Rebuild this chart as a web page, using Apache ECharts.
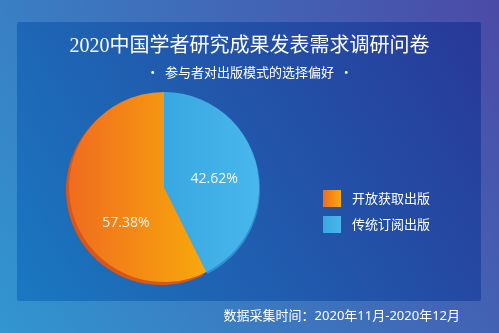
<!DOCTYPE html>
<html>
<head>
<meta charset="utf-8">
<script src="https://cdn.jsdelivr.net/npm/echarts@6/dist/echarts.min.js"></script>
<style>
  html, body { margin: 0; padding: 0; }
  #chart { width: 499px; height: 333px; }
</style>
</head>
<body>
<div id="chart"></div>
<script>
// survey data
const categories = ['传统订阅出版', '开放获取出版'];
const shares = [42.62, 57.38];
const legendOrder = ['开放获取出版', '传统订阅出版'];
const titleText = '2020中国学者研究成果发表需求调研问卷';
const subtitleText = '•  参与者对出版模式的选择偏好  •';
const footnote = '数据采集时间：2020年11月-2020年12月';

const grad = (x, y, x2, y2, c1, c2) =>
  new echarts.graphic.LinearGradient(x, y, x2, y2, [
    { offset: 0, color: c1 },
    { offset: 1, color: c2 }
  ]);

const sliceStyles = [
  { color: grad(0, 0, 1, 0, '#39a8e2', '#48b7ec'), shadowColor: '#2f8fd0', shadowOffsetX: 1, shadowOffsetY: 2 },
  { color: grad(0, 0, 1, 0, '#f06c1f', '#f8a90b'), shadowColor: '#d9561a', shadowOffsetX: -3, shadowOffsetY: 3 }
];
const labelOffsets = [[1, 4], [11, 24]];

const chart = echarts.init(document.getElementById('chart'));

const option = {
  animation: false,
  graphic: [
    {
      type: 'rect', z: -10, silent: true,
      shape: { x: 0, y: 0, width: 499, height: 333 },
      style: { fill: grad(0, 1, 1, 0, '#3196d0', '#4b4aa6') }
    },
    {
      type: 'rect', z: -9, silent: true,
      shape: { x: 17, y: 22, width: 464, height: 279, r: 2 },
      style: { fill: grad(0, 1, 1, 0, '#1a78c0', '#283898') }
    }
  ],
  title: [
    {
      text: titleText,
      left: 'center',
      top: 32,
      textStyle: {
        color: '#ffffff',
        fontSize: 20,
        fontWeight: 'normal',
        fontFamily: 'Liberation Serif, Noto Sans CJK SC'
      }
    },
    {
      text: subtitleText,
      left: 'center',
      top: 61,
      textStyle: {
        color: '#ffffff',
        fontSize: 13,
        fontWeight: 'normal',
        fontFamily: 'Noto Sans CJK SC'
      }
    },
    {
      text: footnote,
      right: 34,
      top: 305,
      textStyle: {
        color: '#ffffff',
        fontSize: 13,
        fontWeight: 'normal',
        fontFamily: 'Noto Sans, Noto Sans CJK SC'
      }
    }
  ],
  legend: {
    data: legendOrder,
    orient: 'vertical',
    left: 318,
    top: 185,
    icon: 'rect',
    itemWidth: 18,
    itemHeight: 17,
    itemGap: 9,
    textStyle: {
      color: '#ffffff',
      fontSize: 13,
      fontFamily: 'Noto Sans CJK SC',
      padding: [0, 0, 0, 6]
    }
  },
  series: [
    {
      type: 'pie',
      center: [164, 187],
      radius: 95,
      startAngle: 90,
      clockwise: true,
      label: {
        show: true,
        position: 'inside',
        formatter: (p) => p.value.toFixed(2) + '%',
        color: '#fbf6e6',
        fontSize: 14,
        fontFamily: 'Open Sans'
      },
      labelLine: { show: false },
      emphasis: { disabled: true },
      data: categories.map((name, i) => ({
        name,
        value: shares[i],
        itemStyle: sliceStyles[i],
        label: { offset: labelOffsets[i] }
      }))
    }
  ]
};

chart.setOption(option);
</script>
</body>
</html>
